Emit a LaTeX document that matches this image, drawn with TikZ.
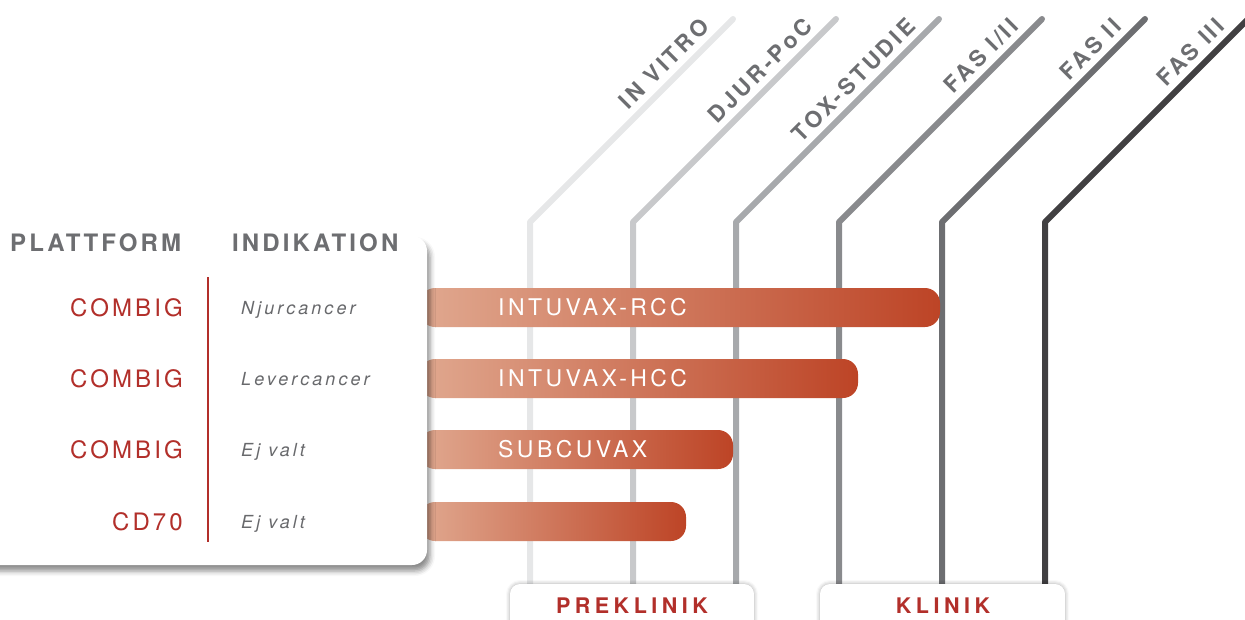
\documentclass[tikz,border=0pt]{standalone}
\usepackage{fontspec}
\setmainfont{TeX Gyre Heros}
\newfontfamily\hdrfont[LetterSpace=13]{TeX Gyre Heros}
\newfontfamily\rowfont[LetterSpace=13]{TeX Gyre Heros}
\newfontfamily\indfont[LetterSpace=17]{TeX Gyre Heros}
\newfontfamily\phfont[LetterSpace=14]{TeX Gyre Heros}
\newfontfamily\barfont[LetterSpace=15]{TeX Gyre Heros}
\newfontfamily\grpfont[LetterSpace=21]{TeX Gyre Heros}
\usetikzlibrary{shadows.blur}
\definecolor{redtxt}{HTML}{B22F2A}
\definecolor{gtxt}{HTML}{6D6E71}
\definecolor{itxt}{HTML}{68696C}
\definecolor{lnA}{HTML}{E6E7E8}
\definecolor{lnB}{HTML}{C8C9CB}
\definecolor{lnC}{HTML}{A7A9AC}
\definecolor{lnD}{HTML}{898A8D}
\definecolor{lnE}{HTML}{6D6E71}
\definecolor{lnF}{HTML}{414042}
\definecolor{barL}{HTML}{E0A88F}
\definecolor{barR}{HTML}{BD4426}
\begin{document}
\begin{tikzpicture}[x=1pt,y=-1pt,
  phase/.style={line width=6pt, line cap=round, line join=round},
  plabel/.style={anchor=base east, rotate=45, inner sep=0pt, text=gtxt, font=\phfont\bfseries\fontsize{22.5}{22.5}\selectfont},
  barbox/.style={left color=barL, right color=barR, rounded corners=15pt},
  bartext/.style={anchor=west, inner sep=0pt, text=white, font=\barfont\fontsize{23}{23}\selectfont},
  hdr/.style={anchor=west, inner sep=0pt, text=gtxt, font=\hdrfont\bfseries\fontsize{24}{24}\selectfont},
  plat/.style={anchor=east, inner sep=0pt, text=redtxt, font=\rowfont\fontsize{24}{24}\selectfont},
  ind/.style={anchor=base west, inner sep=0pt, text=itxt, font=\indfont\itshape\fontsize{18}{18}\selectfont},
  grp/.style={anchor=center, inner sep=0pt, text=redtxt, font=\grpfont\bfseries\fontsize{21.5}{21.5}\selectfont},
  panel/.style={fill=white, rounded corners=15pt, blur shadow={shadow xshift=3pt, shadow yshift=-6pt, shadow blur radius=5pt, shadow opacity=45}},
  tab/.style={fill=white, rounded corners=10pt, blur shadow={shadow xshift=0pt, shadow yshift=0pt, shadow blur radius=4pt, shadow opacity=35}}]
\useasboundingbox (0,0) rectangle (1245,619);
\clip (0,0) rectangle (1245,619);

% phase lines
\draw[phase, lnA] (530,640) -- (530,222) -- ++(203,-203);
\draw[phase, lnB] (633,640) -- (633,222) -- ++(203,-203);
\draw[phase, lnC] (736,640) -- (736,222) -- ++(203,-203);
\draw[phase, lnD] (839,640) -- (839,222) -- ++(203,-203);
\draw[phase, lnE] (942,640) -- (942,222) -- ++(203,-203);
\draw[phase, lnF] (1045,640) -- (1045,222) -- ++(203,-203);

% phase labels
\node[plabel] (pA) at (711,28) {IN VITRO};
\node[plabel] (pB) at (814,28) {DJUR-PoC};
\node[plabel] (pC) at (917,28) {TOX-STUDIE};
\node[plabel] (pD) at (1020,28) {FAS I/II};
\node[plabel] (pE) at (1123,28) {FAS II};
\node[plabel] (pF) at (1226,28) {FAS III};

% bars
\shade[barbox] (420,288) rectangle (940,327);
\shade[barbox] (420,359) rectangle (858,398);
\shade[barbox] (420,430) rectangle (733,469);
\shade[barbox] (420,502) rectangle (686,541);
\node[bartext] (b1) at (498,307.5) {INTUVAX-RCC};
\node[bartext] (b2) at (498,378.5) {INTUVAX-HCC};
\node[bartext] (b3) at (498,449.5) {SUBCUVAX};

% left panel
\fill[panel] (-60,236) rectangle (427,565);
\draw[redtxt, line width=1.5pt] (208,277) -- (208,542);
\node[hdr] (h1) at (10,243) {PLATTFORM};
\node[hdr] (h2) at (232,243) {INDIKATION};
\node[plat] (r1) at (183,307.5) {COMBIG};
\node[plat] (r2) at (183,378.5) {COMBIG};
\node[plat] (r3) at (183,449.5) {COMBIG};
\node[plat] (r4) at (183,521.5) {CD70};
\node[ind] (i1) at (241,314) {Njurcancer};
\node[ind] (i2) at (241,385) {Levercancer};
\node[ind] (i3) at (241,456) {Ej valt};
\node[ind] (i4) at (241,528) {Ej valt};

% bottom tabs
\fill[tab] (510,584) rectangle (754,660);
\fill[tab] (820,584) rectangle (1065,660);
\node[grp] (g1) at (632,606) {PREKLINIK};
\node[grp] (g2) at (943,606) {KLINIK};
\end{tikzpicture}
\end{document}
